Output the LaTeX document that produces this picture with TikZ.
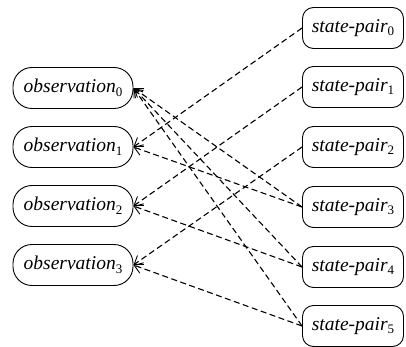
\documentclass[tikz,border=0pt]{standalone}
\usepackage{fontspec}
\setmainfont{Liberation Serif}
\usetikzlibrary{arrows.meta}
\newcommand\subd[1]{\raisebox{-.4ex}{\fontsize{13}{13}\selectfont\upshape #1}}
\begin{document}
\begin{tikzpicture}[x=1pt,y=1pt,
  obsbox/.style={draw, line width=0.9pt, rounded corners=19pt, minimum width=120pt, minimum height=41pt, inner sep=0pt, font=\fontsize{19.5}{22}\selectfont\itshape},
  spbox/.style={draw, line width=0.9pt, rounded corners=11pt, minimum width=101pt, minimum height=41pt, inner sep=0pt, font=\fontsize{19.5}{22}\selectfont\itshape},
  link/.style={line width=1.1pt, dash pattern=on 6pt off 3.5pt, -{Straight Barb[length=8pt,width=11pt,line width=0.9pt]}}
]
\useasboundingbox (0,0) rectangle (406,-347);
\node[obsbox] (o0) at (73,-88) {observation\subd{0}};
\node[obsbox] (o1) at (73,-147) {observation\subd{1}};
\node[obsbox] (o2) at (73,-206) {observation\subd{2}};
\node[obsbox] (o3) at (73,-265) {observation\subd{3}};
\node[spbox] (s0) at (353,-28) {state-pair\subd{0}};
\node[spbox] (s1) at (353,-87) {state-pair\subd{1}};
\node[spbox] (s2) at (353,-147) {state-pair\subd{2}};
\node[spbox] (s3) at (353,-207) {state-pair\subd{3}};
\node[spbox] (s4) at (353,-267) {state-pair\subd{4}};
\node[spbox] (s5) at (353,-326) {state-pair\subd{5}};
\draw[link] (s0.west) -- (o1.east);
\draw[link] (s1.west) -- (o2.east);
\draw[link] (s2.west) -- (o3.east);
\draw[link] (s3.west) -- (o0.east);
\draw[link] (s3.west) -- (o1.east);
\draw[link] (s4.west) -- (o0.east);
\draw[link] (s4.west) -- (o2.east);
\draw[link] (s5.west) -- (o0.east);
\draw[link] (s5.west) -- (o3.east);
\end{tikzpicture}
\end{document}
